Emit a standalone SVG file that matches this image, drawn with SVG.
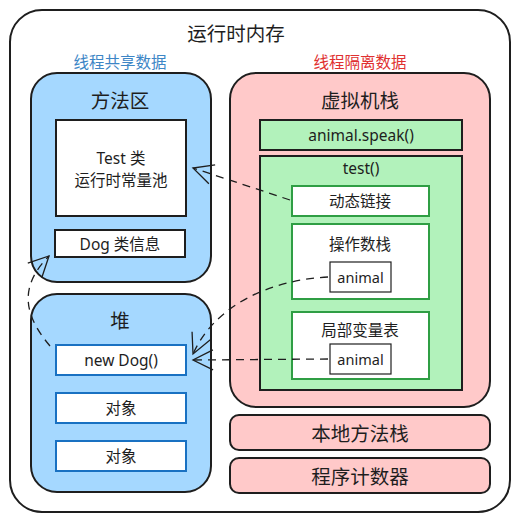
<svg xmlns="http://www.w3.org/2000/svg" width="520" height="522" viewBox="0 0 520 522">
<defs>
<style>
text{font-family:"Noto Sans","Noto Sans CJK SC",sans-serif;fill:#1e1e1e;text-anchor:middle;dominant-baseline:central}
.t14{font-size:15.5px}
.t13{font-size:14.5px}
.t17{font-size:19.5px}
.blue{fill:#a5d8ff;stroke:#1e1e1e;stroke-width:2}
.pink{fill:#ffc9c9;stroke:#1e1e1e;stroke-width:2}
.green{fill:#b2f2bb;stroke:#1e1e1e;stroke-width:2}
.wb{fill:#fff;stroke:#1e1e1e;stroke-width:2}
.wblue{fill:#fff;stroke:#1971c2;stroke-width:2}
.wgreen{fill:#fff;stroke:#2f9e44;stroke-width:2}
.wthin{fill:#fff;stroke:#1e1e1e;stroke-width:1.2}
.conn{fill:none;stroke:#1e1e1e;stroke-width:1.3;stroke-dasharray:8 6}
</style>
<marker id="arr" viewBox="0 0 24 24" refX="22" refY="12" markerWidth="24" markerHeight="24" markerUnits="userSpaceOnUse" orient="auto">
<path d="M2,2 L22,12 L2,22" fill="none" stroke="#1e1e1e" stroke-width="1.3"/>
</marker>
</defs>
<g id="memory">
<rect x="10" y="10" width="500" height="502" rx="32" fill="#fff" stroke="#1e1e1e" stroke-width="2"/>
<text x="236" y="33" class="t17">运行时内存</text>
<text x="120" y="62" class="t14" style="fill:#3d86c6">线程共享数据</text>
<text x="360" y="62" class="t14" style="fill:#e03131">线程隔离数据</text>
</g>
<g id="method-area">
<rect x="31" y="73" width="180" height="209" rx="26" class="blue"/>
<text x="120" y="100" class="t17">方法区</text>
</g>
<g id="test-class">
<rect x="56" y="120" width="130" height="96" class="wb"/>
<text x="121" y="158" class="t14">Test 类</text>
<text x="121" y="180" class="t14">运行时常量池</text>
</g>
<g id="dog-class">
<rect x="55" y="230" width="130" height="27" class="wb"/>
<text x="120" y="244" class="t14">Dog 类信息</text>
</g>
<g id="heap">
<rect x="31" y="294" width="180" height="198" rx="26" class="blue"/>
<text x="120" y="320" class="t17">堆</text>
</g>
<g id="new-dog">
<rect x="56" y="345" width="130" height="30" class="wblue"/>
<text x="121" y="360" class="t14">new Dog()</text>
</g>
<g id="obj1">
<rect x="56" y="393" width="130" height="30" class="wblue"/>
<text x="121" y="408" class="t14">对象</text>
</g>
<g id="obj2">
<rect x="56" y="441" width="130" height="30" class="wblue"/>
<text x="121" y="456" class="t14">对象</text>
</g>
<g id="vm-stack">
<rect x="230" y="73" width="260" height="334" rx="26" class="pink"/>
<text x="360" y="100" class="t17">虚拟机栈</text>
</g>
<g id="speak-frame">
<rect x="260" y="120" width="202" height="30" class="green"/>
<text x="361" y="135" class="t14">animal.speak()</text>
</g>
<g id="test-frame">
<rect x="260" y="156" width="202" height="234" class="green"/>
<text x="361" y="168" class="t14">test()</text>
</g>
<g id="dynamic-link">
<rect x="292" y="186" width="137" height="30" class="wgreen"/>
<text x="360" y="201" class="t14">动态链接</text>
</g>
<g id="operand-stack">
<rect x="292" y="224" width="137" height="75" class="wgreen"/>
<text x="360" y="244" class="t14">操作数栈</text>
</g>
<g id="operand-animal">
<rect x="330" y="262" width="61" height="30" class="wthin"/>
<text x="360.5" y="277" class="t13">animal</text>
</g>
<g id="local-vars">
<rect x="292" y="312" width="137" height="67" class="wgreen"/>
<text x="360" y="330" class="t14">局部变量表</text>
</g>
<g id="local-animal">
<rect x="330" y="344" width="61" height="30" class="wthin"/>
<text x="360.5" y="359" class="t13">animal</text>
</g>
<g id="native-stack">
<rect x="230" y="415" width="260" height="35" rx="9" class="pink"/>
<text x="360" y="433" class="t17">本地方法栈</text>
</g>
<g id="pc">
<rect x="230" y="458" width="260" height="35" rx="9" class="pink"/>
<text x="360" y="476" class="t17">程序计数器</text>
</g>
<g id="connectors">
<path d="M290,200 L193,168" class="conn" marker-end="url(#arr)"/>
<path d="M328,277 C270,280 215,305 193,354" class="conn" marker-end="url(#arr)"/>
<path d="M328,359 L193,360" class="conn" marker-end="url(#arr)"/>
<path d="M50,346 C28,320 15,290 49,256" class="conn" marker-end="url(#arr)"/>
</g>
</svg>
